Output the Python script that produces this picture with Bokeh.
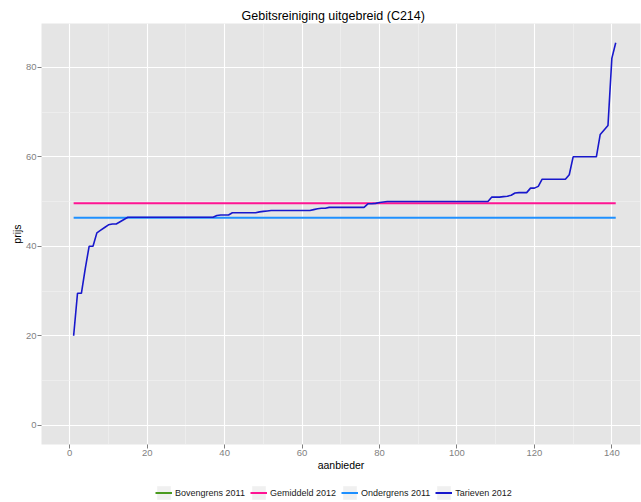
from bokeh.plotting import figure
from bokeh.layouts import column
from bokeh.models import Range1d, FixedTicker, Legend, LegendItem
from bokeh.embed import file_html
from bokeh.resources import INLINE

# ---------------- data ----------------
aanbieder = list(range(1, 142))
tarieven_2012 = [
    20.0, 29.5, 29.5, 35.0, 40.0, 40.0, 43.0, 43.6, 44.2, 44.8,
    45.0, 45.0, 45.5, 46.0, 46.5,
    46.5, 46.5, 46.5, 46.5, 46.5, 46.5, 46.5, 46.5, 46.5, 46.5, 46.5,
    46.5, 46.5, 46.5, 46.5, 46.5, 46.5, 46.5, 46.5, 46.5, 46.5, 46.5,
    46.9, 47.0, 47.0, 47.0,
    47.5, 47.5, 47.5, 47.5, 47.5, 47.5, 47.5,
    47.7, 47.8, 47.9,
    48.0, 48.0, 48.0, 48.0, 48.0, 48.0, 48.0, 48.0, 48.0, 48.0, 48.0,
    48.2, 48.4, 48.5, 48.5,
    48.7, 48.7, 48.7, 48.7, 48.7, 48.7, 48.7, 48.7, 48.7, 48.7,
    49.5, 49.5, 49.6, 49.8, 49.9,
    50.0, 50.0, 50.0, 50.0, 50.0, 50.0, 50.0, 50.0, 50.0, 50.0,
    50.0, 50.0, 50.0, 50.0, 50.0, 50.0, 50.0, 50.0, 50.0, 50.0,
    50.0, 50.0, 50.0, 50.0, 50.0, 50.0, 50.0,
    51.0, 51.0, 51.0, 51.1, 51.2, 51.4, 51.9, 52.0, 52.0, 52.0,
    53.0, 53.0, 53.4,
    55.0, 55.0, 55.0, 55.0, 55.0, 55.0, 55.0,
    56.0,
    60.0, 60.0, 60.0, 60.0, 60.0, 60.0, 60.0,
    65.0, 66.0, 67.0, 82.0, 85.5,
]
gemiddeld_2012 = 49.6
ondergrens_2011 = 46.4
bovengrens_2011 = None  # no line visible in the chart (legend only)

x_ticks = [0, 20, 40, 60, 80, 100, 120, 140]
x_minor = [10, 30, 50, 70, 90, 110, 130]
y_ticks = [0, 20, 40, 60, 80]
y_minor = [10, 30, 50, 70]

series_names = ["Bovengrens 2011", "Gemiddeld 2012", "Ondergrens 2011", "Tarieven 2012"]
series_colors = ["#4a9a1f", "#ff1493", "#1e90ff", "#1818cc"]

FONT = "Liberation Sans"

# ---------------- main plot ----------------
p = figure(width=641, height=480, output_backend="svg", toolbar_location=None,
           x_range=Range1d(-7.3, 147.4), y_range=Range1d(-4.3, 89.8),
           min_border_left=41, min_border_right=1, min_border_top=23,
           min_border_bottom=36)

p.title.text = "Gebitsreiniging uitgebreid (C214)"
p.title.align = "left"
p.title.offset = 200
p.title.text_font = FONT
p.title.text_font_size = "12.5px"
p.title.text_font_style = "normal"
p.title.text_color = "black"
p.title.standoff = 2

p.background_fill_color = "#e5e5e5"
p.border_fill_color = "white"
p.outline_line_color = None

p.xaxis.ticker = FixedTicker(ticks=x_ticks, minor_ticks=x_minor)
p.yaxis.ticker = FixedTicker(ticks=y_ticks, minor_ticks=y_minor)
p.xaxis.axis_label = "aanbieder"
p.yaxis.axis_label = "prijs"

for ax in (p.xaxis, p.yaxis):
    ax.axis_line_color = None
    ax.major_tick_line_color = "#7f7f7f"
    ax.major_tick_out = 4
    ax.major_tick_in = 0
    ax.minor_tick_line_color = None
    ax.major_label_text_color = "#7f7f7f"
    ax.major_label_text_font = FONT
    ax.major_label_text_font_size = "9.5px"
    ax.major_label_standoff = 1
    ax.axis_label_text_font = FONT
    ax.axis_label_text_font_size = "10.5px"
    ax.axis_label_text_font_style = "normal"
    ax.axis_label_text_color = "black"
    ax.axis_label_standoff = 0

for g in (p.xgrid, p.ygrid):
    g.grid_line_color = "white"
    g.grid_line_width = 1.1
    g.minor_grid_line_color = "#f2f2f2"
    g.minor_grid_line_width = 0.6

p.line(x=[aanbieder[0], aanbieder[-1]], y=[gemiddeld_2012, gemiddeld_2012],
       line_color=series_colors[1], line_width=2)
p.line(x=[aanbieder[0], aanbieder[-1]], y=[ondergrens_2011, ondergrens_2011],
       line_color=series_colors[2], line_width=2)
p.line(x=aanbieder, y=tarieven_2012, line_color=series_colors[3], line_width=1.6)

# ---------------- legend strip ----------------
lp = figure(width=641, height=21, output_backend="svg", toolbar_location=None,
            x_range=Range1d(0, 1), y_range=Range1d(0, 1),
            x_axis_type=None, y_axis_type=None, min_border=0)
lp.outline_line_color = None
lp.background_fill_color = "white"
lp.border_fill_color = "white"

key_box = lp.rect(x=aanbieder[:1], y=tarieven_2012[:1], width=1, height=1,
                  fill_color="#f0f0f0", line_color=None, visible=False)
leg_renderers = [
    lp.line(x=aanbieder[:1], y=tarieven_2012[:1], line_color=c, line_width=2,
            visible=False)
    for c in series_colors
]
items = [LegendItem(label=n, renderers=[key_box, r])
         for n, r in zip(series_names, leg_renderers)]
legend = Legend(items=items, orientation="horizontal", location=(114, 0),
                margin=0, padding=0, spacing=5, label_standoff=3,
                glyph_width=17, glyph_height=17, label_height=17,
                label_text_font=FONT, label_text_font_size="9px",
                label_text_color="#1a1a1a", border_line_color=None,
                background_fill_alpha=0)
lp.add_layout(legend)

layout = column(p, lp, spacing=0)
open("out.html", "w").write(file_html(layout, INLINE))
